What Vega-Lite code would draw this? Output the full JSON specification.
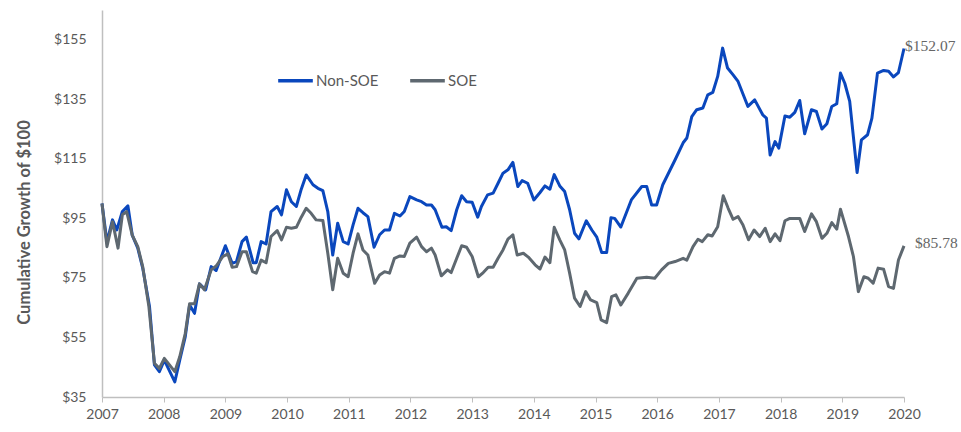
{
  "$schema": "https://vega.github.io/schema/vega-lite/v6.json",
  "width": 802,
  "height": 387,
  "autosize": "none",
  "padding": {"left": 102, "top": 10, "right": 57, "bottom": 35},
  "background": "white",
  "config": {
    "view": {"stroke": null},
    "font": "Lato",
    "axis": {"grid": false, "labelColor": "#595959", "labelFontSize": 14, "domainColor": "#BFBFBF", "domainWidth": 1.5, "tickColor": "#BFBFBF", "titleColor": "#595959"}
  },
  "datasets": {
    "lines": [
      {"t": 2007.0, "v": 100, "s": "Non-SOE"},
      {"t": 2007.08, "v": 87, "s": "Non-SOE"},
      {"t": 2007.17, "v": 94.5, "s": "Non-SOE"},
      {"t": 2007.24, "v": 91.1, "s": "Non-SOE"},
      {"t": 2007.33, "v": 97.3, "s": "Non-SOE"},
      {"t": 2007.42, "v": 99.2, "s": "Non-SOE"},
      {"t": 2007.49, "v": 89.4, "s": "Non-SOE"},
      {"t": 2007.58, "v": 85, "s": "Non-SOE"},
      {"t": 2007.66, "v": 78.3, "s": "Non-SOE"},
      {"t": 2007.77, "v": 65.4, "s": "Non-SOE"},
      {"t": 2007.85, "v": 45.8, "s": "Non-SOE"},
      {"t": 2007.93, "v": 43.5, "s": "Non-SOE"},
      {"t": 2008.01, "v": 47.4, "s": "Non-SOE"},
      {"t": 2008.18, "v": 40.1, "s": "Non-SOE"},
      {"t": 2008.26, "v": 47.4, "s": "Non-SOE"},
      {"t": 2008.35, "v": 55.3, "s": "Non-SOE"},
      {"t": 2008.42, "v": 65.9, "s": "Non-SOE"},
      {"t": 2008.5, "v": 63.1, "s": "Non-SOE"},
      {"t": 2008.58, "v": 73, "s": "Non-SOE"},
      {"t": 2008.68, "v": 71, "s": "Non-SOE"},
      {"t": 2008.77, "v": 78.8, "s": "Non-SOE"},
      {"t": 2008.85, "v": 77.5, "s": "Non-SOE"},
      {"t": 2009.0, "v": 85.8, "s": "Non-SOE"},
      {"t": 2009.11, "v": 79.9, "s": "Non-SOE"},
      {"t": 2009.18, "v": 80.5, "s": "Non-SOE"},
      {"t": 2009.27, "v": 87.2, "s": "Non-SOE"},
      {"t": 2009.34, "v": 88.7, "s": "Non-SOE"},
      {"t": 2009.45, "v": 80.1, "s": "Non-SOE"},
      {"t": 2009.5, "v": 80.1, "s": "Non-SOE"},
      {"t": 2009.58, "v": 87.2, "s": "Non-SOE"},
      {"t": 2009.66, "v": 86.4, "s": "Non-SOE"},
      {"t": 2009.74, "v": 97.3, "s": "Non-SOE"},
      {"t": 2009.84, "v": 99, "s": "Non-SOE"},
      {"t": 2009.91, "v": 96.2, "s": "Non-SOE"},
      {"t": 2009.99, "v": 104.6, "s": "Non-SOE"},
      {"t": 2010.07, "v": 100.6, "s": "Non-SOE"},
      {"t": 2010.15, "v": 99, "s": "Non-SOE"},
      {"t": 2010.23, "v": 104.8, "s": "Non-SOE"},
      {"t": 2010.31, "v": 109.6, "s": "Non-SOE"},
      {"t": 2010.42, "v": 106.3, "s": "Non-SOE"},
      {"t": 2010.5, "v": 105.1, "s": "Non-SOE"},
      {"t": 2010.58, "v": 104.3, "s": "Non-SOE"},
      {"t": 2010.66, "v": 97.3, "s": "Non-SOE"},
      {"t": 2010.74, "v": 82.7, "s": "Non-SOE"},
      {"t": 2010.82, "v": 93.4, "s": "Non-SOE"},
      {"t": 2010.91, "v": 87.2, "s": "Non-SOE"},
      {"t": 2010.99, "v": 86.4, "s": "Non-SOE"},
      {"t": 2011.07, "v": 92.8, "s": "Non-SOE"},
      {"t": 2011.15, "v": 98.4, "s": "Non-SOE"},
      {"t": 2011.23, "v": 96.9, "s": "Non-SOE"},
      {"t": 2011.31, "v": 95.6, "s": "Non-SOE"},
      {"t": 2011.41, "v": 85.3, "s": "Non-SOE"},
      {"t": 2011.5, "v": 89.5, "s": "Non-SOE"},
      {"t": 2011.58, "v": 91.1, "s": "Non-SOE"},
      {"t": 2011.66, "v": 91.1, "s": "Non-SOE"},
      {"t": 2011.74, "v": 96.7, "s": "Non-SOE"},
      {"t": 2011.83, "v": 95.8, "s": "Non-SOE"},
      {"t": 2011.9, "v": 97.3, "s": "Non-SOE"},
      {"t": 2011.99, "v": 102.3, "s": "Non-SOE"},
      {"t": 2012.1, "v": 101.2, "s": "Non-SOE"},
      {"t": 2012.18, "v": 100.6, "s": "Non-SOE"},
      {"t": 2012.26, "v": 99.5, "s": "Non-SOE"},
      {"t": 2012.34, "v": 99.5, "s": "Non-SOE"},
      {"t": 2012.4, "v": 97.9, "s": "Non-SOE"},
      {"t": 2012.51, "v": 92, "s": "Non-SOE"},
      {"t": 2012.58, "v": 92.2, "s": "Non-SOE"},
      {"t": 2012.66, "v": 90.9, "s": "Non-SOE"},
      {"t": 2012.75, "v": 97.9, "s": "Non-SOE"},
      {"t": 2012.83, "v": 102.6, "s": "Non-SOE"},
      {"t": 2012.91, "v": 100.6, "s": "Non-SOE"},
      {"t": 2013.0, "v": 100.4, "s": "Non-SOE"},
      {"t": 2013.09, "v": 95.4, "s": "Non-SOE"},
      {"t": 2013.15, "v": 99, "s": "Non-SOE"},
      {"t": 2013.25, "v": 102.9, "s": "Non-SOE"},
      {"t": 2013.34, "v": 103.5, "s": "Non-SOE"},
      {"t": 2013.42, "v": 106.8, "s": "Non-SOE"},
      {"t": 2013.5, "v": 110.2, "s": "Non-SOE"},
      {"t": 2013.58, "v": 111.3, "s": "Non-SOE"},
      {"t": 2013.66, "v": 113.8, "s": "Non-SOE"},
      {"t": 2013.74, "v": 105.7, "s": "Non-SOE"},
      {"t": 2013.81, "v": 107.7, "s": "Non-SOE"},
      {"t": 2013.9, "v": 106.8, "s": "Non-SOE"},
      {"t": 2014.0, "v": 101.2, "s": "Non-SOE"},
      {"t": 2014.1, "v": 103.7, "s": "Non-SOE"},
      {"t": 2014.18, "v": 105.9, "s": "Non-SOE"},
      {"t": 2014.26, "v": 104.8, "s": "Non-SOE"},
      {"t": 2014.33, "v": 109.7, "s": "Non-SOE"},
      {"t": 2014.42, "v": 105.9, "s": "Non-SOE"},
      {"t": 2014.5, "v": 104, "s": "Non-SOE"},
      {"t": 2014.58, "v": 97.9, "s": "Non-SOE"},
      {"t": 2014.66, "v": 90, "s": "Non-SOE"},
      {"t": 2014.73, "v": 88.1, "s": "Non-SOE"},
      {"t": 2014.85, "v": 94.2, "s": "Non-SOE"},
      {"t": 2014.94, "v": 91.1, "s": "Non-SOE"},
      {"t": 2015.02, "v": 88.7, "s": "Non-SOE"},
      {"t": 2015.1, "v": 83.5, "s": "Non-SOE"},
      {"t": 2015.18, "v": 83.5, "s": "Non-SOE"},
      {"t": 2015.25, "v": 95.2, "s": "Non-SOE"},
      {"t": 2015.31, "v": 95, "s": "Non-SOE"},
      {"t": 2015.41, "v": 92.1, "s": "Non-SOE"},
      {"t": 2015.58, "v": 101.2, "s": "Non-SOE"},
      {"t": 2015.75, "v": 105.7, "s": "Non-SOE"},
      {"t": 2015.83, "v": 105.7, "s": "Non-SOE"},
      {"t": 2015.91, "v": 99.5, "s": "Non-SOE"},
      {"t": 2015.99, "v": 99.5, "s": "Non-SOE"},
      {"t": 2016.09, "v": 106.3, "s": "Non-SOE"},
      {"t": 2016.29, "v": 114.7, "s": "Non-SOE"},
      {"t": 2016.42, "v": 120.4, "s": "Non-SOE"},
      {"t": 2016.48, "v": 122, "s": "Non-SOE"},
      {"t": 2016.56, "v": 129.2, "s": "Non-SOE"},
      {"t": 2016.64, "v": 131.5, "s": "Non-SOE"},
      {"t": 2016.74, "v": 132.1, "s": "Non-SOE"},
      {"t": 2016.82, "v": 136.5, "s": "Non-SOE"},
      {"t": 2016.9, "v": 137.3, "s": "Non-SOE"},
      {"t": 2016.98, "v": 142.7, "s": "Non-SOE"},
      {"t": 2017.06, "v": 152.2, "s": "Non-SOE"},
      {"t": 2017.14, "v": 145.5, "s": "Non-SOE"},
      {"t": 2017.23, "v": 143.2, "s": "Non-SOE"},
      {"t": 2017.31, "v": 141, "s": "Non-SOE"},
      {"t": 2017.47, "v": 132.6, "s": "Non-SOE"},
      {"t": 2017.58, "v": 134.8, "s": "Non-SOE"},
      {"t": 2017.71, "v": 129.8, "s": "Non-SOE"},
      {"t": 2017.77, "v": 128.7, "s": "Non-SOE"},
      {"t": 2017.83, "v": 116.3, "s": "Non-SOE"},
      {"t": 2017.91, "v": 120.8, "s": "Non-SOE"},
      {"t": 2017.97, "v": 118.6, "s": "Non-SOE"},
      {"t": 2018.07, "v": 129.4, "s": "Non-SOE"},
      {"t": 2018.15, "v": 129, "s": "Non-SOE"},
      {"t": 2018.23, "v": 130.6, "s": "Non-SOE"},
      {"t": 2018.31, "v": 134.6, "s": "Non-SOE"},
      {"t": 2018.39, "v": 123.4, "s": "Non-SOE"},
      {"t": 2018.5, "v": 131.5, "s": "Non-SOE"},
      {"t": 2018.58, "v": 130.9, "s": "Non-SOE"},
      {"t": 2018.67, "v": 125, "s": "Non-SOE"},
      {"t": 2018.75, "v": 126.8, "s": "Non-SOE"},
      {"t": 2018.83, "v": 132.6, "s": "Non-SOE"},
      {"t": 2018.91, "v": 133.5, "s": "Non-SOE"},
      {"t": 2018.97, "v": 143.8, "s": "Non-SOE"},
      {"t": 2019.04, "v": 140.4, "s": "Non-SOE"},
      {"t": 2019.12, "v": 134.3, "s": "Non-SOE"},
      {"t": 2019.24, "v": 110.4, "s": "Non-SOE"},
      {"t": 2019.31, "v": 121.4, "s": "Non-SOE"},
      {"t": 2019.41, "v": 123.1, "s": "Non-SOE"},
      {"t": 2019.48, "v": 128.7, "s": "Non-SOE"},
      {"t": 2019.57, "v": 143.8, "s": "Non-SOE"},
      {"t": 2019.67, "v": 144.7, "s": "Non-SOE"},
      {"t": 2019.75, "v": 144.4, "s": "Non-SOE"},
      {"t": 2019.83, "v": 142.5, "s": "Non-SOE"},
      {"t": 2019.91, "v": 144, "s": "Non-SOE"},
      {"t": 2020.0, "v": 152.07, "s": "Non-SOE"},
      {"t": 2007.0, "v": 100, "s": "SOE"},
      {"t": 2007.08, "v": 85.5, "s": "SOE"},
      {"t": 2007.17, "v": 93.9, "s": "SOE"},
      {"t": 2007.26, "v": 85, "s": "SOE"},
      {"t": 2007.33, "v": 96.2, "s": "SOE"},
      {"t": 2007.4, "v": 97.3, "s": "SOE"},
      {"t": 2007.49, "v": 89.4, "s": "SOE"},
      {"t": 2007.58, "v": 85.5, "s": "SOE"},
      {"t": 2007.66, "v": 78.8, "s": "SOE"},
      {"t": 2007.76, "v": 65.4, "s": "SOE"},
      {"t": 2007.85, "v": 46.3, "s": "SOE"},
      {"t": 2007.93, "v": 44.6, "s": "SOE"},
      {"t": 2008.01, "v": 48, "s": "SOE"},
      {"t": 2008.18, "v": 43.5, "s": "SOE"},
      {"t": 2008.26, "v": 48.5, "s": "SOE"},
      {"t": 2008.35, "v": 56.4, "s": "SOE"},
      {"t": 2008.42, "v": 66.3, "s": "SOE"},
      {"t": 2008.5, "v": 66.3, "s": "SOE"},
      {"t": 2008.58, "v": 73, "s": "SOE"},
      {"t": 2008.66, "v": 71, "s": "SOE"},
      {"t": 2008.77, "v": 77.7, "s": "SOE"},
      {"t": 2008.85, "v": 79, "s": "SOE"},
      {"t": 2008.96, "v": 82.2, "s": "SOE"},
      {"t": 2009.04, "v": 83.1, "s": "SOE"},
      {"t": 2009.11, "v": 78.6, "s": "SOE"},
      {"t": 2009.18, "v": 78.8, "s": "SOE"},
      {"t": 2009.27, "v": 83.8, "s": "SOE"},
      {"t": 2009.34, "v": 83.8, "s": "SOE"},
      {"t": 2009.44, "v": 77.1, "s": "SOE"},
      {"t": 2009.5, "v": 76.6, "s": "SOE"},
      {"t": 2009.58, "v": 81, "s": "SOE"},
      {"t": 2009.66, "v": 80.1, "s": "SOE"},
      {"t": 2009.74, "v": 88.9, "s": "SOE"},
      {"t": 2009.84, "v": 90.9, "s": "SOE"},
      {"t": 2009.91, "v": 87.8, "s": "SOE"},
      {"t": 2009.99, "v": 92, "s": "SOE"},
      {"t": 2010.07, "v": 91.7, "s": "SOE"},
      {"t": 2010.15, "v": 92, "s": "SOE"},
      {"t": 2010.23, "v": 95.4, "s": "SOE"},
      {"t": 2010.31, "v": 98.4, "s": "SOE"},
      {"t": 2010.39, "v": 96.7, "s": "SOE"},
      {"t": 2010.47, "v": 94.5, "s": "SOE"},
      {"t": 2010.58, "v": 94.3, "s": "SOE"},
      {"t": 2010.66, "v": 83.3, "s": "SOE"},
      {"t": 2010.74, "v": 71, "s": "SOE"},
      {"t": 2010.82, "v": 81.6, "s": "SOE"},
      {"t": 2010.91, "v": 76.6, "s": "SOE"},
      {"t": 2010.99, "v": 75.4, "s": "SOE"},
      {"t": 2011.07, "v": 83.3, "s": "SOE"},
      {"t": 2011.15, "v": 89.8, "s": "SOE"},
      {"t": 2011.23, "v": 84.4, "s": "SOE"},
      {"t": 2011.31, "v": 82.7, "s": "SOE"},
      {"t": 2011.42, "v": 73.2, "s": "SOE"},
      {"t": 2011.5, "v": 76, "s": "SOE"},
      {"t": 2011.58, "v": 77.1, "s": "SOE"},
      {"t": 2011.66, "v": 76.6, "s": "SOE"},
      {"t": 2011.74, "v": 81.6, "s": "SOE"},
      {"t": 2011.83, "v": 82.4, "s": "SOE"},
      {"t": 2011.9, "v": 82.2, "s": "SOE"},
      {"t": 2011.99, "v": 86.7, "s": "SOE"},
      {"t": 2012.1, "v": 88.7, "s": "SOE"},
      {"t": 2012.18, "v": 85.5, "s": "SOE"},
      {"t": 2012.26, "v": 83.8, "s": "SOE"},
      {"t": 2012.34, "v": 85, "s": "SOE"},
      {"t": 2012.4, "v": 82.7, "s": "SOE"},
      {"t": 2012.5, "v": 75.7, "s": "SOE"},
      {"t": 2012.6, "v": 77.7, "s": "SOE"},
      {"t": 2012.66, "v": 76.8, "s": "SOE"},
      {"t": 2012.75, "v": 81.6, "s": "SOE"},
      {"t": 2012.83, "v": 85.8, "s": "SOE"},
      {"t": 2012.91, "v": 85.3, "s": "SOE"},
      {"t": 2013.0, "v": 82.2, "s": "SOE"},
      {"t": 2013.1, "v": 75.4, "s": "SOE"},
      {"t": 2013.18, "v": 76.8, "s": "SOE"},
      {"t": 2013.26, "v": 78.6, "s": "SOE"},
      {"t": 2013.34, "v": 78.6, "s": "SOE"},
      {"t": 2013.42, "v": 81.6, "s": "SOE"},
      {"t": 2013.5, "v": 84.4, "s": "SOE"},
      {"t": 2013.58, "v": 88, "s": "SOE"},
      {"t": 2013.66, "v": 89.5, "s": "SOE"},
      {"t": 2013.73, "v": 82.7, "s": "SOE"},
      {"t": 2013.83, "v": 83.3, "s": "SOE"},
      {"t": 2013.91, "v": 82, "s": "SOE"},
      {"t": 2014.02, "v": 79.4, "s": "SOE"},
      {"t": 2014.1, "v": 78, "s": "SOE"},
      {"t": 2014.18, "v": 82, "s": "SOE"},
      {"t": 2014.26, "v": 80.1, "s": "SOE"},
      {"t": 2014.33, "v": 92, "s": "SOE"},
      {"t": 2014.42, "v": 87.8, "s": "SOE"},
      {"t": 2014.5, "v": 84.4, "s": "SOE"},
      {"t": 2014.58, "v": 76.6, "s": "SOE"},
      {"t": 2014.66, "v": 68.2, "s": "SOE"},
      {"t": 2014.75, "v": 65.4, "s": "SOE"},
      {"t": 2014.84, "v": 70.4, "s": "SOE"},
      {"t": 2014.92, "v": 67.6, "s": "SOE"},
      {"t": 2015.02, "v": 66.7, "s": "SOE"},
      {"t": 2015.09, "v": 60.9, "s": "SOE"},
      {"t": 2015.18, "v": 60, "s": "SOE"},
      {"t": 2015.26, "v": 68.7, "s": "SOE"},
      {"t": 2015.33, "v": 69.3, "s": "SOE"},
      {"t": 2015.41, "v": 65.9, "s": "SOE"},
      {"t": 2015.53, "v": 69.9, "s": "SOE"},
      {"t": 2015.67, "v": 74.9, "s": "SOE"},
      {"t": 2015.83, "v": 75.2, "s": "SOE"},
      {"t": 2015.96, "v": 74.9, "s": "SOE"},
      {"t": 2016.07, "v": 77.7, "s": "SOE"},
      {"t": 2016.18, "v": 79.9, "s": "SOE"},
      {"t": 2016.29, "v": 80.5, "s": "SOE"},
      {"t": 2016.42, "v": 81.6, "s": "SOE"},
      {"t": 2016.48, "v": 81, "s": "SOE"},
      {"t": 2016.58, "v": 85.5, "s": "SOE"},
      {"t": 2016.66, "v": 88, "s": "SOE"},
      {"t": 2016.73, "v": 87.2, "s": "SOE"},
      {"t": 2016.82, "v": 89.5, "s": "SOE"},
      {"t": 2016.89, "v": 89.1, "s": "SOE"},
      {"t": 2016.98, "v": 92.2, "s": "SOE"},
      {"t": 2017.07, "v": 102.6, "s": "SOE"},
      {"t": 2017.15, "v": 98.4, "s": "SOE"},
      {"t": 2017.23, "v": 94.7, "s": "SOE"},
      {"t": 2017.31, "v": 95.6, "s": "SOE"},
      {"t": 2017.39, "v": 92.8, "s": "SOE"},
      {"t": 2017.48, "v": 87.8, "s": "SOE"},
      {"t": 2017.57, "v": 91.1, "s": "SOE"},
      {"t": 2017.66, "v": 88.9, "s": "SOE"},
      {"t": 2017.75, "v": 91.7, "s": "SOE"},
      {"t": 2017.83, "v": 87.2, "s": "SOE"},
      {"t": 2017.91, "v": 89.8, "s": "SOE"},
      {"t": 2017.99, "v": 87.5, "s": "SOE"},
      {"t": 2018.07, "v": 94.2, "s": "SOE"},
      {"t": 2018.15, "v": 95, "s": "SOE"},
      {"t": 2018.31, "v": 95, "s": "SOE"},
      {"t": 2018.39, "v": 90.6, "s": "SOE"},
      {"t": 2018.5, "v": 96.5, "s": "SOE"},
      {"t": 2018.58, "v": 93.9, "s": "SOE"},
      {"t": 2018.67, "v": 88.3, "s": "SOE"},
      {"t": 2018.75, "v": 90, "s": "SOE"},
      {"t": 2018.83, "v": 93.6, "s": "SOE"},
      {"t": 2018.91, "v": 91.4, "s": "SOE"},
      {"t": 2018.97, "v": 98.1, "s": "SOE"},
      {"t": 2019.1, "v": 88.9, "s": "SOE"},
      {"t": 2019.18, "v": 82.2, "s": "SOE"},
      {"t": 2019.26, "v": 70.4, "s": "SOE"},
      {"t": 2019.35, "v": 75.4, "s": "SOE"},
      {"t": 2019.42, "v": 74.9, "s": "SOE"},
      {"t": 2019.5, "v": 73.2, "s": "SOE"},
      {"t": 2019.58, "v": 78.3, "s": "SOE"},
      {"t": 2019.67, "v": 77.9, "s": "SOE"},
      {"t": 2019.75, "v": 72.1, "s": "SOE"},
      {"t": 2019.83, "v": 71.5, "s": "SOE"},
      {"t": 2019.91, "v": 81, "s": "SOE"},
      {"t": 2020.0, "v": 85.78, "s": "SOE"}
    ],
    "ends": [
      {"t": 2020.0, "v": 152.07, "label": "$152.07", "s": "Non-SOE"},
      {"t": 2020.0, "v": 85.78, "label": "$85.78", "s": "SOE"}
    ]
  },
  "layer": [
    {
      "data": {"name": "lines"},
      "mark": {"type": "line", "strokeWidth": 3, "strokeJoin": "round", "clip": false},
      "encoding": {
        "x": {
          "field": "t", "type": "quantitative",
          "scale": {"domain": [2007, 2020], "nice": false, "zero": false},
          "axis": {"title": null, "values": [2007, 2008, 2009, 2010, 2011, 2012, 2013, 2014, 2015, 2016, 2017, 2018, 2019, 2020], "format": "d", "tickSize": 5, "labelPadding": 5, "labelFlush": false, "labelOverlap": false}
        },
        "y": {
          "field": "v", "type": "quantitative",
          "scale": {"domain": [35, 165], "nice": false, "zero": false},
          "axis": {"title": "Cumulative Growth of $100", "titleFontSize": 16.5, "titleFontWeight": "bold", "titlePadding": 21, "titleY": 212, "values": [35, 55, 75, 95, 115, 135, 155], "format": "$d", "ticks": false, "labelPadding": 16}
        },
        "color": {
          "field": "s", "type": "nominal",
          "scale": {"domain": ["Non-SOE", "SOE"], "range": ["#0A47BD", "#5E6870"]},
          "legend": {"title": null, "orient": "none", "direction": "horizontal", "legendX": 174, "legendY": 51, "symbolType": "stroke", "symbolSize": 1200, "symbolStrokeWidth": 3.5, "labelFontSize": 15, "labelColor": "#595959", "labelOffset": 1, "columnPadding": 24}
        }
      }
    },
    {
      "data": {"name": "ends"},
      "transform": [{"filter": "datum.s === 'Non-SOE'"}],
      "mark": {"type": "text", "align": "left", "baseline": "middle", "font": "Liberation Serif", "fontSize": 15.5, "color": "#666666", "dx": 1, "dy": -2},
      "encoding": {
        "x": {"field": "t", "type": "quantitative"},
        "y": {"field": "v", "type": "quantitative"},
        "text": {"field": "label"}
      }
    },
    {
      "data": {"name": "ends"},
      "transform": [{"filter": "datum.s === 'SOE'"}],
      "mark": {"type": "text", "align": "left", "baseline": "middle", "font": "Liberation Serif", "fontSize": 15.5, "color": "#666666", "dx": 11, "dy": -3},
      "encoding": {
        "x": {"field": "t", "type": "quantitative"},
        "y": {"field": "v", "type": "quantitative"},
        "text": {"field": "label"}
      }
    }
  ]
}
